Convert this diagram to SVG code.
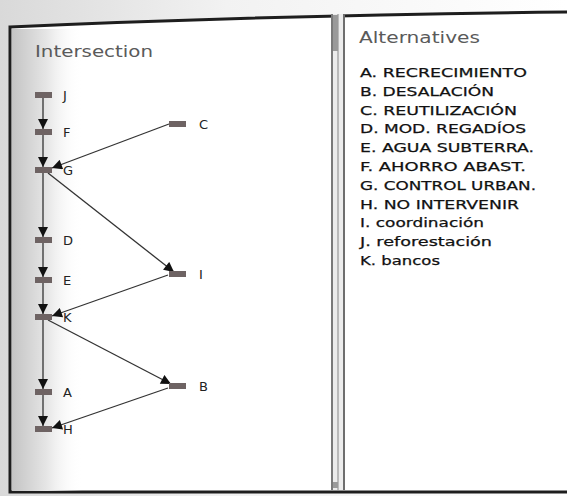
<svg xmlns="http://www.w3.org/2000/svg" width="567" height="496" viewBox="0 0 567 496">
<defs>
<linearGradient id="bgTop" x1="0" y1="0" x2="1" y2="0">
<stop offset="0" stop-color="#d9d9d9"/><stop offset="0.4" stop-color="#f2f2f2"/><stop offset="1" stop-color="#ffffff"/>
</linearGradient>
<linearGradient id="leftShade" x1="0" y1="0" x2="1" y2="0">
<stop offset="0" stop-color="#c4c4c4"/><stop offset="0.5" stop-color="#e6e6e6"/><stop offset="1" stop-color="#ffffff" stop-opacity="0"/>
</linearGradient>
<marker id="ah" viewBox="0 0 10 10" markerUnits="userSpaceOnUse" markerWidth="11" markerHeight="10" refX="10" refY="5" orient="auto">
<path d="M0,0 L10,5 L0,10 z" fill="#111"/>
</marker>
<style>
.node rect{fill:#6e6363;}
.node text{font-family:"DejaVu Sans",Verdana,sans-serif;font-size:13px;fill:#222;}
.edge{stroke:#333;stroke-width:1.3;fill:none;marker-end:url(#ah);}
.title{font-family:"DejaVu Sans",Verdana,sans-serif;font-size:15px;fill:#5a5a5a;}
.item{font-family:"DejaVu Sans",Verdana,sans-serif;font-size:12.5px;fill:#111;stroke:#111;stroke-width:0.25;}
</style>
</defs>
<rect x="0" y="0" width="567" height="496" fill="url(#bgTop)"/>
<path d="M10,27 Q280,15 572,12 L572,492 L10,492 Z" fill="#ffffff" stroke="#1e1e1e" stroke-width="3"/>
<rect x="12" y="29" width="70" height="462" fill="url(#leftShade)"/>
<g id="splitter">
<rect x="331" y="14" width="14" height="476" fill="#ececec"/>
<line x1="332" y1="14" x2="332" y2="490" stroke="#555" stroke-width="1.5"/>
<line x1="338" y1="14" x2="338" y2="490" stroke="#888" stroke-width="1"/>
<line x1="344" y1="14" x2="344" y2="490" stroke="#444" stroke-width="1.5"/>
<rect x="333" y="15" width="5" height="36" fill="#9a9a9a"/>
<rect x="333" y="482" width="5" height="6" fill="#9a9a9a"/>
</g>
<text class="title" x="35" y="57" textLength="118" lengthAdjust="spacingAndGlyphs">Intersection</text>
<text class="title" x="359" y="43" textLength="121" lengthAdjust="spacingAndGlyphs">Alternatives</text>
<g id="connectors">
<line class="edge" x1="43" y1="98" x2="43" y2="129"/>
<line class="edge" x1="43" y1="135" x2="43" y2="167"/>
<line class="edge" x1="43" y1="173" x2="43" y2="237"/>
<line class="edge" x1="43" y1="243" x2="43" y2="277"/>
<line class="edge" x1="43" y1="283" x2="43" y2="314"/>
<line class="edge" x1="43" y1="320" x2="43" y2="389"/>
<line class="edge" x1="43" y1="395" x2="43" y2="426"/>
<line class="edge" x1="169" y1="124" x2="52" y2="168"/>
<line class="edge" x1="48" y1="173" x2="174" y2="272"/>
<line class="edge" x1="168" y1="275" x2="52" y2="316"/>
<line class="edge" x1="48" y1="320" x2="171" y2="384"/>
<line class="edge" x1="168" y1="388" x2="52" y2="428"/>
</g>
<g id="node-J" class="node"><rect x="35" y="92" width="17" height="6"/><text x="63" y="100">J</text></g>
<g id="node-F" class="node"><rect x="35" y="129" width="17" height="6"/><text x="63" y="137">F</text></g>
<g id="node-G" class="node"><rect x="35" y="167" width="17" height="6"/><text x="63" y="175">G</text></g>
<g id="node-D" class="node"><rect x="35" y="237" width="17" height="6"/><text x="63" y="245">D</text></g>
<g id="node-E" class="node"><rect x="35" y="277" width="17" height="6"/><text x="63" y="285">E</text></g>
<g id="node-K" class="node"><rect x="35" y="314" width="17" height="6"/><text x="63" y="322">K</text></g>
<g id="node-A" class="node"><rect x="35" y="389" width="17" height="6"/><text x="63" y="397">A</text></g>
<g id="node-H" class="node"><rect x="35" y="426" width="17" height="6"/><text x="63" y="434">H</text></g>
<g id="node-C" class="node"><rect x="169" y="121" width="17" height="6"/><text x="199" y="129">C</text></g>
<g id="node-I" class="node"><rect x="169" y="271" width="17" height="6"/><text x="199" y="279">I</text></g>
<g id="node-B" class="node"><rect x="169" y="383" width="17" height="6"/><text x="199" y="391">B</text></g>
<g id="alternatives-list">
<text class="item" x="360" y="77" textLength="167" lengthAdjust="spacingAndGlyphs">A. RECRECIMIENTO</text>
<text class="item" x="360" y="95.8" textLength="134" lengthAdjust="spacingAndGlyphs">B. DESALACIÓN</text>
<text class="item" x="360" y="114.6" textLength="157" lengthAdjust="spacingAndGlyphs">C. REUTILIZACIÓN</text>
<text class="item" x="360" y="133.4" textLength="166" lengthAdjust="spacingAndGlyphs">D. MOD. REGADÍOS</text>
<text class="item" x="360" y="152.2" textLength="174" lengthAdjust="spacingAndGlyphs">E. AGUA SUBTERRA.</text>
<text class="item" x="360" y="171" textLength="166" lengthAdjust="spacingAndGlyphs">F. AHORRO ABAST.</text>
<text class="item" x="360" y="189.8" textLength="176" lengthAdjust="spacingAndGlyphs">G. CONTROL URBAN.</text>
<text class="item" x="360" y="208.6" textLength="159" lengthAdjust="spacingAndGlyphs">H. NO INTERVENIR</text>
<text class="item" x="360" y="227.4" textLength="124" lengthAdjust="spacingAndGlyphs">I. coordinación</text>
<text class="item" x="360" y="246.2" textLength="132" lengthAdjust="spacingAndGlyphs">J. reforestación</text>
<text class="item" x="360" y="265" textLength="80" lengthAdjust="spacingAndGlyphs">K. bancos</text>
</g>
</svg>
